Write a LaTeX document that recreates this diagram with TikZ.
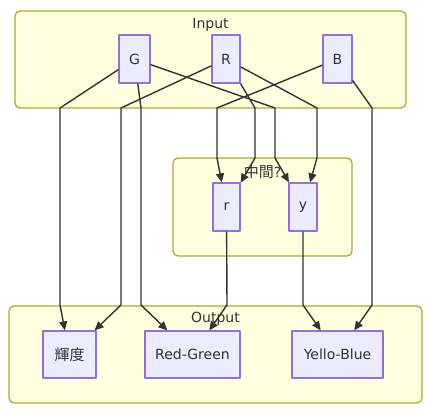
\documentclass[tikz,border=0pt]{standalone}
\usepackage{fontspec}
\setmainfont{DejaVu Sans}
\newfontfamily\cjk{Noto Sans CJK JP}
\usetikzlibrary{arrows.meta}
\definecolor{clfill}{HTML}{FFFFDE}
\definecolor{cldraw}{HTML}{AAAA33}
\definecolor{ndfill}{HTML}{ECECFF}
\definecolor{nddraw}{HTML}{9370DB}
\definecolor{txt}{HTML}{333333}
\begin{document}
\begin{tikzpicture}[x=1pt,y=-1pt,
  cluster/.style={draw=cldraw,fill=clfill,line width=1.2pt,rounded corners=5pt},
  cllabel/.style={text=txt,font=\fontsize{14}{16}\selectfont,inner sep=0pt},
  box/.style={draw=nddraw,fill=ndfill,line width=1.2pt,inner sep=0pt,text=txt,
    font=\fontsize{14}{16}\selectfont,minimum height=48pt},
  edge/.style={draw=txt,line width=1.4pt,-{Triangle[length=9pt,width=8pt]}},
  line join=round]
\useasboundingbox (0,0) rectangle (430,411);
% clusters
\draw[cluster] (15,11) rectangle (406,108);
\draw[cluster] (173,158) rectangle (352,256);
\draw[cluster] (9,306) rectangle (422,403);
\node[cllabel] (lin) at (210.5,25) {Input};
\node[cllabel] (lmid) at (262.5,172) {{\cjk\fontsize{15}{16}\selectfont 中間}?};
\node[cllabel] (lout) at (215.5,319) {Output};
% nodes
\node[box,minimum width=31pt] (G) at (134.5,59) {G};
\node[box,minimum width=28pt] (R) at (226,59) {R};
\node[box,minimum width=29pt] (B) at (337.5,59) {B};
\node[box,minimum width=27pt] (r) at (226.5,207) {r};
\node[box,minimum width=28pt] (y) at (303,207) {y};
\node[box,minimum width=53pt,minimum height=47pt] (K) at (69.5,354.5) {\cjk\fontsize{15}{16}\selectfont 輝度};
\node[box,minimum width=95pt,minimum height=47pt] (RG) at (192.5,354.5) {Red-Green};
\node[box,minimum width=91pt,minimum height=47pt] (YB) at (337.5,354.5) {Yello-Blue};
% bend coordinates
\coordinate (gk1) at (60,108);  \coordinate (gk2) at (60,305);
\coordinate (gr1) at (141,108); \coordinate (gr2) at (141,305);
\coordinate (gy1) at (275,108); \coordinate (gy2) at (275,158);
\coordinate (rk1) at (121,108); \coordinate (rk2) at (121,305);
\coordinate (rr1) at (255,108); \coordinate (rr2) at (255,158);
\coordinate (ry1) at (317,108); \coordinate (ry2) at (317,158);
\coordinate (br1) at (217,108); \coordinate (br2) at (217,158);
\coordinate (bb1) at (372,108); \coordinate (bb2) at (372,305);
\coordinate (rg2) at (227,305);
\coordinate (yb2) at (303,305);
% edges
\draw[edge] (G) -- (gk1) -- (gk2) -- (K);
\draw[edge] (G) -- (gr1) -- (gr2) -- (RG);
\draw[edge] (G) -- (gy1) -- (gy2) -- (y);
\draw[edge] (R) -- (rk1) -- (rk2) -- (K);
\draw[edge] (R) -- (rr1) -- (rr2) -- (r);
\draw[edge] (R) -- (ry1) -- (ry2) -- (y);
\draw[edge] (B) -- (br1) -- (br2) -- (r);
\draw[edge] (B) -- (bb1) -- (bb2) -- (YB);
\draw[edge] (r) -- (rg2) -- (RG);
\draw[edge] (y) -- (yb2) -- (YB);
\end{tikzpicture}
\end{document}
